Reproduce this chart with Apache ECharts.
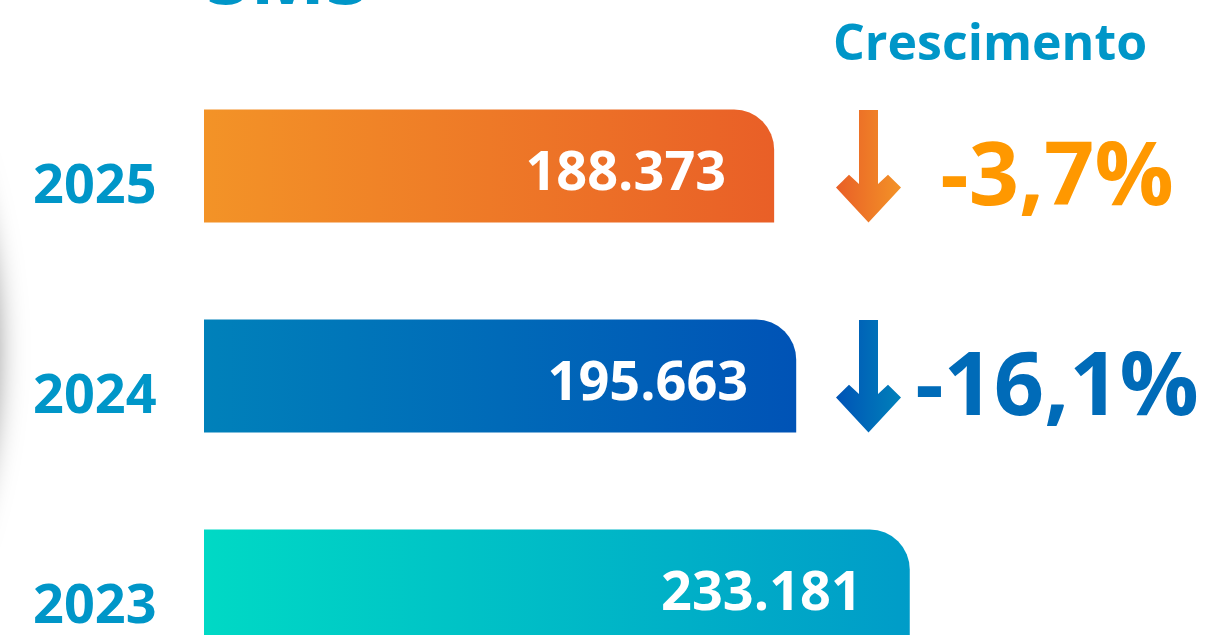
<!DOCTYPE html>
<html>
<head>
<meta charset="utf-8">
<script src="https://cdn.jsdelivr.net/npm/echarts@6/dist/echarts.min.js"></script>
<style>
  html, body { margin: 0; padding: 0; background: #fff; }
  #chart { width: 1211px; height: 635px; }
</style>
</head>
<body>
<div id="chart"></div>
<script>
  // dados
  const years = ['2025', '2024', '2023']
  const totals = [188373, 195663, 233181]
  const growth = [-3.7, -16.1, null]

  const barColors = [
    ['#F39327', '#E95F27'],
    ['#0081BA', '#0053B6'],
    ['#00D9C5', '#009CC8']
  ]
  const pctColors = ['#FF9800', '#006BB8']
  const blue = '#0096C8'
  const font = '"Open Sans", "DejaVu Sans", sans-serif'

  function fmtInt(v) {
    return String(v).replace(/\B(?=(\d{3})+(?!\d))/g, '.')
  }
  function fmtPct(v) {
    return (v > 0 ? '+' : '') + v.toFixed(1).replace('.', ',') + '%'
  }
  function grad(c) {
    return new echarts.graphic.LinearGradient(0, 0, 1, 0, [
      { offset: 0, color: c[0] },
      { offset: 1, color: c[1] }
    ])
  }

  const chart = echarts.init(document.getElementById('chart'))

  const option = {
    animation: false,
    grid: { left: 204, right: 99, top: 166, bottom: 47 },
    xAxis: { type: 'value', min: 0, max: 300000, show: false },
    yAxis: {
      type: 'category',
      data: years,
      inverse: true,
      boundaryGap: false,
      axisLine: { show: false },
      axisTick: { show: false },
      splitLine: { show: false },
      axisLabel: {
        align: 'left',
        verticalAlign: 'top',
        lineHeight: 44,
        margin: 171,
        color: blue,
        fontSize: 54,
        fontWeight: 'bold',
        fontFamily: font
      }
    },
    series: [
      {
        type: 'bar',
        barWidth: 113,
        clip: false,
        data: totals.map((v, i) => ({
          value: v,
          itemStyle: { color: grad(barColors[i]), borderRadius: [0, 40, 0, 0] }
        })),
        label: {
          show: true,
          position: 'insideRight',
          distance: 48,
          offset: [0, 9],
          color: '#fff',
          fontSize: 54,
          fontWeight: 'bold',
          fontFamily: font,
          formatter: p => fmtInt(p.value)
        }
      }
    ]
  }

  chart.setOption(option)

  // elementos decorativos: título, cabeçalho, setas e percentuais
  const graphics = [
    {
      type: 'circle',
      silent: true,
      shape: { cx: -605, cy: 350, r: 600 },
      style: { fill: '#fff', shadowBlur: 30, shadowColor: 'rgba(0,0,0,0.5)' },
      z: -10
    },
    {
      type: 'text',
      style: { x: 206, y: -19, text: 'SMS', fill: blue, font: 'bold 80px ' + font, verticalAlign: 'middle' }
    },
    {
      type: 'text',
      style: { x: 833, y: 46, text: 'Crescimento', fill: blue, font: 'bold 50px ' + font, verticalAlign: 'middle' }
    }
  ]

  growth.forEach((g, i) => {
    if (g === null) return
    const cy = chart.convertToPixel({ gridIndex: 0 }, [0, i])[1]
    const cx = 868.5
    const top = cy - 56
    const pts = [[-9.5, 0], [9.5, 0], [9.5, 74], [19.5, 64.7], [32.5, 77.4], [0, 112.4],
      [-32.5, 77.4], [-19.5, 64.7], [-9.5, 74]].map(p => [cx + p[0], top + p[1]])
    const c = barColors[i]
    graphics.push({
      type: 'polygon',
      shape: { points: pts },
      style: { fill: grad([c[1], c[0]]) }
    })
    graphics.push({
      type: 'text',
      style: {
        x: 1057,
        y: cy + 14,
        text: fmtPct(g),
        fill: pctColors[i],
        font: 'bold 88px ' + font,
        align: 'center',
        verticalAlign: 'middle'
      }
    })
  })

  chart.setOption({ graphic: graphics })
</script>
</body>
</html>
